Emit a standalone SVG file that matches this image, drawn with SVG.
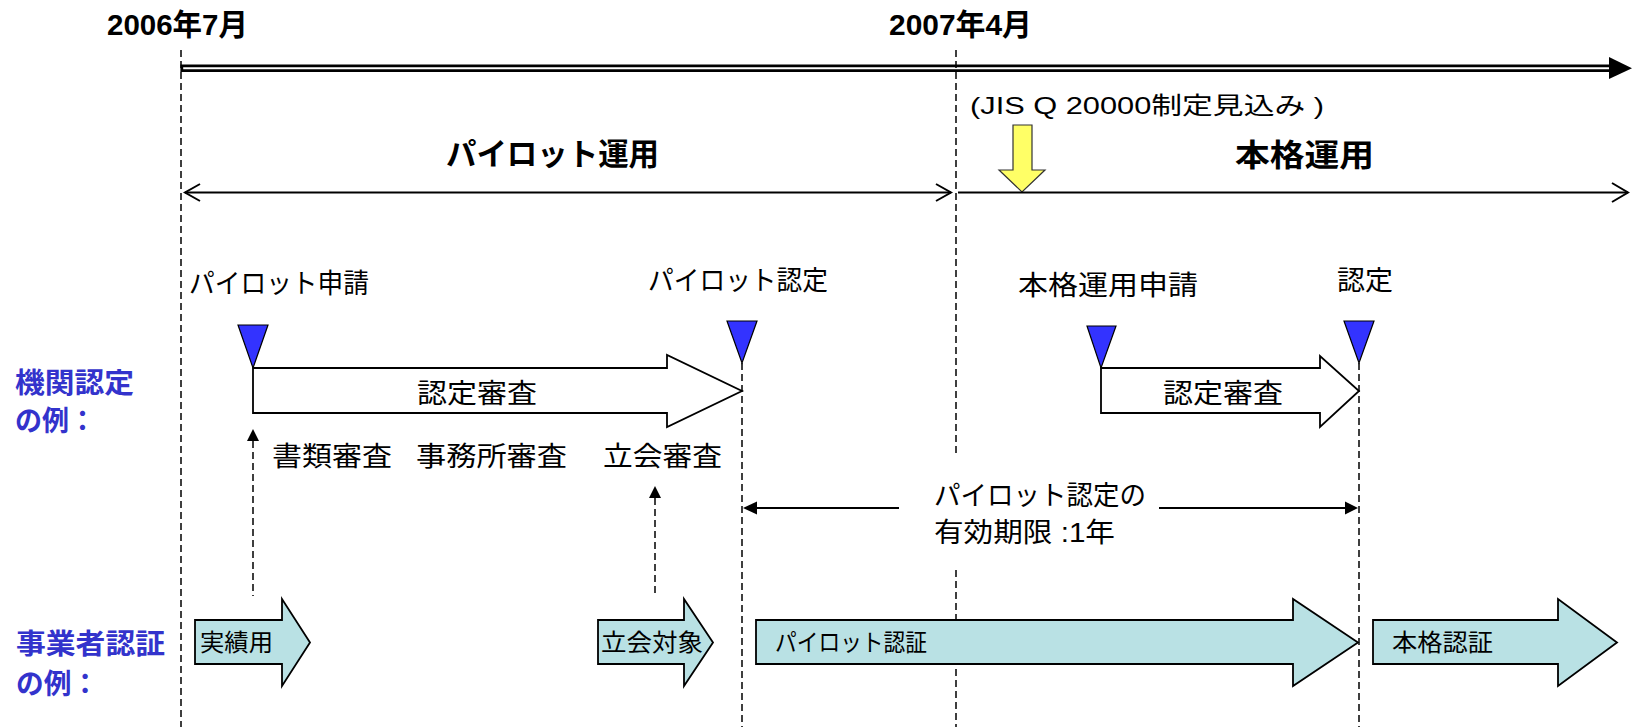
<svg xmlns="http://www.w3.org/2000/svg" width="1634" height="727" viewBox="0 0 1634 727">
<style>
text{font-family:"Liberation Sans","Noto Sans CJK JP",sans-serif;fill:#000}
.b{font-weight:bold}
.date{font-size:30px;font-weight:bold}
.phase{font-size:31px;font-weight:bold}
.lbl{font-size:27px}
.sm{font-size:24px}
.blue{font-size:28px;font-weight:bold;fill:#3333CC}
.dash{stroke:#000;stroke-width:1.5;stroke-dasharray:7 4;fill:none}
.ln{stroke:#000;stroke-width:2;fill:none}
.tri{fill:#3333FF;stroke:#000;stroke-width:1.2}
.wa{fill:#fff;stroke:#000;stroke-width:1.8}
.ca{fill:#B9E1E4;stroke:#000;stroke-width:1.8}
</style>
<rect width="1634" height="727" fill="#fff"/>

<g id="guides">
<line class="dash" x1="181" y1="50" x2="181" y2="727"/>
<line class="dash" x1="956" y1="50" x2="956" y2="455"/>
<line class="dash" x1="956" y1="570" x2="956" y2="727"/>
<line class="dash" x1="742" y1="363" x2="742" y2="727"/>
<line class="dash" x1="1359" y1="363" x2="1359" y2="727"/>
</g>

<g id="dates">
<text class="date" x="107" y="35" textLength="141" lengthAdjust="spacingAndGlyphs">2006年7月</text>
<text class="date" x="889" y="35" textLength="143" lengthAdjust="spacingAndGlyphs">2007年4月</text>
</g>

<g id="timeline">
<path d="M1611,65.8 H181.8 V70.6 H1611" stroke="#000" stroke-width="2.8" fill="none"/>
<polygon points="1609,57 1632,68.2 1609,79" fill="#000"/>
</g>

<g id="jis">
<text class="sm" x="970" y="114" textLength="354" lengthAdjust="spacingAndGlyphs">(JIS Q 20000制定見込み )</text>
<polygon points="1013,125 1032,125 1032,170 1045,170 1022,192 999,170 1013,170" fill="#FFFF66" stroke="#333" stroke-width="1.2"/>
</g>

<g id="phase-pilot">
<text class="phase" x="446" y="165" textLength="213" lengthAdjust="spacingAndGlyphs">パイロット運用</text>
<line class="ln" x1="185" y1="192.5" x2="951" y2="192.5"/>
<polyline class="ln" points="200,184 185,192.5 200,201"/>
<polyline class="ln" points="936,184 951,192.5 936,201"/>
</g>

<g id="phase-full">
<text class="phase" x="1235" y="166" textLength="139" lengthAdjust="spacingAndGlyphs">本格運用</text>
<line class="ln" x1="958" y1="192.5" x2="1628" y2="192.5"/>
<polyline class="ln" points="1612,183 1628,192.5 1612,202"/>
</g>

<g id="labels-left">
<text class="blue" x="15" y="393" textLength="119" lengthAdjust="spacingAndGlyphs">機関認定</text>
<text class="blue" x="15" y="431" textLength="81" lengthAdjust="spacingAndGlyphs">の例：</text>
<text class="blue" x="16" y="654" textLength="149" lengthAdjust="spacingAndGlyphs">事業者認証</text>
<text class="blue" x="16" y="694" textLength="83" lengthAdjust="spacingAndGlyphs">の例：</text>
</g>

<g id="milestone-pilot-apply">
<text class="lbl" x="189" y="293" textLength="180" lengthAdjust="spacingAndGlyphs">パイロット申請</text>
<polygon class="tri" points="238,325 268,325 253,368"/>
</g>
<g id="milestone-pilot-cert">
<text class="lbl" x="648" y="290" textLength="180" lengthAdjust="spacingAndGlyphs">パイロット認定</text>
<polygon class="tri" points="727,321 757,321 742,363"/>
</g>
<g id="milestone-full-apply">
<text class="lbl" x="1018" y="295" textLength="180" lengthAdjust="spacingAndGlyphs">本格運用申請</text>
<polygon class="tri" points="1087,326 1116,326 1101,368"/>
</g>
<g id="milestone-full-cert">
<text class="lbl" x="1337" y="290" textLength="56" lengthAdjust="spacingAndGlyphs">認定</text>
<polygon class="tri" points="1344,321 1374,321 1359,363"/>
</g>

<g id="review-pilot">
<path class="wa" d="M253,368 H667 V355 L742,391 L667,427 V413 H253 Z"/>
<text class="lbl" x="417" y="403" textLength="120" lengthAdjust="spacingAndGlyphs">認定審査</text>
</g>
<g id="review-full">
<path class="wa" d="M1101,368 H1320 V356 L1359,391 L1320,427 V413 H1101 Z"/>
<text class="lbl" x="1163" y="403" textLength="120" lengthAdjust="spacingAndGlyphs">認定審査</text>
</g>

<g id="review-steps">
<text class="lbl" x="272" y="466" textLength="120" lengthAdjust="spacingAndGlyphs">書類審査</text>
<text class="lbl" x="416" y="466" textLength="151" lengthAdjust="spacingAndGlyphs">事務所審査</text>
<text class="lbl" x="603" y="466" textLength="119" lengthAdjust="spacingAndGlyphs">立会審査</text>
</g>

<g id="connectors">
<line class="dash" x1="253" y1="441" x2="253" y2="596"/>
<polygon points="253,429 247,441 259,441" fill="#000"/>
<line class="dash" x1="655" y1="498" x2="655" y2="597"/>
<polygon points="655,486 649,498 661,498" fill="#000"/>
<line class="ln" x1="899" y1="508" x2="756" y2="508"/>
<polygon points="743,508 757,501.5 757,514.5" fill="#000"/>
<line class="ln" x1="1159" y1="508" x2="1346" y2="508"/>
<polygon points="1358,508 1345,501.5 1345,514.5" fill="#000"/>
</g>

<g id="validity">
<text class="lbl" x="934" y="505" textLength="212" lengthAdjust="spacingAndGlyphs">パイロット認定の</text>
<text class="lbl" x="934" y="542" textLength="181" lengthAdjust="spacingAndGlyphs">有効期限 :1年</text>
</g>

<g id="cert-record">
<path class="ca" d="M195,620 H282 V599 L310,642.5 L282,686 V664 H195 Z"/>
<text class="sm" x="200" y="651" textLength="73" lengthAdjust="spacingAndGlyphs">実績用</text>
</g>
<g id="cert-witness">
<path class="ca" d="M598,620 H684 V599 L713,642.5 L684,686 V664 H598 Z"/>
<text class="sm" x="601" y="651" textLength="102" lengthAdjust="spacingAndGlyphs">立会対象</text>
</g>
<g id="cert-pilot">
<path class="ca" d="M756,620 H1293 V599 L1358,642.5 L1293,686 V664 H756 Z"/>
<text class="sm" x="775" y="651" textLength="152" lengthAdjust="spacingAndGlyphs">パイロット認証</text>
</g>
<g id="cert-full">
<path class="ca" d="M1373,620 H1558 V599 L1617,642.5 L1558,686 V664 H1373 Z"/>
<text class="sm" x="1392" y="651" textLength="101" lengthAdjust="spacingAndGlyphs">本格認証</text>
</g>
</svg>
